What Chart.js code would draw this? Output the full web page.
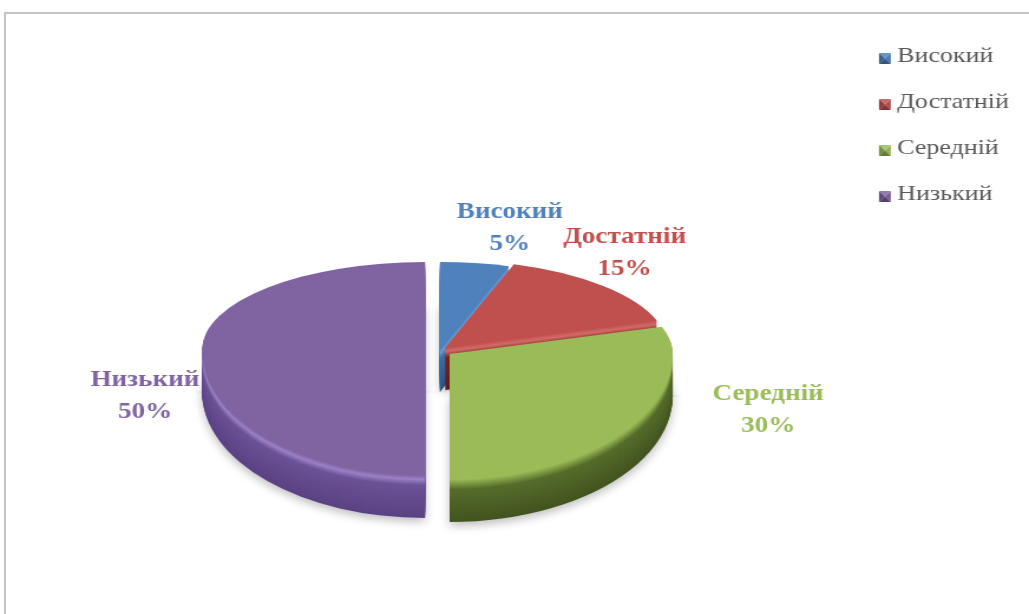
<!DOCTYPE html>
<html>
<head>
<meta charset="utf-8">
<script src="https://cdn.jsdelivr.net/npm/chart.js@4.4.1/dist/chart.umd.min.js"></script>
<style>
  html, body { margin: 0; padding: 0; background: #fff; overflow: hidden; width: 1029px; height: 614px; }
  #frame { position: absolute; left: 4px; top: 12px; width: 1200px; height: 800px;
           border-top: 2px solid #c4c4c4; border-left: 2px solid #c4c4c4; }
  #c { position: absolute; left: 0; top: 0; }
</style>
</head>
<body>
<div id="frame"></div>
<canvas id="c" width="872" height="614" style="width:1029px;height:614px"></canvas>
<script>
// --- data ---
const categories = ['Високий', 'Достатній', 'Середній', 'Низький'];
const shares = [5, 15, 30, 50];

// --- colours ---
const topColors   = ['#4f81bd', '#c0504d', '#9bbb59', '#8064a2'];
const rimColors   = ['#6f9bd3', '#d36b68', '#7f9c45', '#9a82c8'];
const sideUpper   = ['#3d6da6', '#7a2422', '#566c2b', '#6c5296'];
const sideLower   = ['#2c5282', '#5e1b19', '#435420', '#5a4383'];
const labelColors = ['#4f81bd', '#c0504d', '#9bbb59', '#8064a2'];

// the canvas buffer is displayed 1029px wide: horizontal stretch factor
const SX = 1029 / 872;
// projected pie: centre, horizontal radius, far/near vertical radii, wall height
// (x in buffer units; the far half is flatter than the near half for perspective)
const pie = { cx: 440 / SX, cy: 350, rx: 223 / SX, ryBack: 88, ryFront: 126, depth: 42 };
// how far each slice is pulled out along its mid angle (screen px)
const explode = [0, 7, 12, 15];
// label block centre relative to the slice's rim point (screen px)
const labelShift = [[35, -35], [22, -33], [138, -18], [-57, 46]];

function hexToRgb(h) {
  const n = parseInt(h.slice(1), 16);
  return [(n >> 16) & 255, (n >> 8) & 255, n & 255];
}
function mix(a, b, t) {
  const p = hexToRgb(a), q = hexToRgb(b);
  t = Math.max(0, Math.min(1, t));
  const c = p.map((v, k) => Math.round(v + (q[k] - v) * t));
  return 'rgb(' + c.join(',') + ')';
}

function midAngle(arc) { return (arc.startAngle + arc.endAngle) / 2; }
function ryFor(angle) { return Math.sin(angle) < 0 ? pie.ryBack : pie.ryFront; }

function sliceOffset(arc, i) {
  const m = midAngle(arc), e = explode[i];
  return { dx: Math.cos(m) * e / SX, dy: Math.sin(m) * e * (ryFor(m) / (pie.rx * SX)) };
}

// draw one library arc element projected onto the tilted pie:
// far half and near half use their own vertical radius
function paintArc(ctx, arc, dx, dy, fill) {
  const r = arc.outerRadius;
  const splitY = pie.cy + dy;
  const halves = [[pie.ryBack, -10000, splitY + 0.5], [pie.ryFront, splitY - 0.5, 10000]];
  const own = arc.options;
  arc.options = Object.assign({}, own, { backgroundColor: fill, borderWidth: 0, offset: 0, spacing: 0 });
  halves.forEach(([ry, y1, y2]) => {
    ctx.save();
    ctx.beginPath();
    ctx.rect(-10000, y1, 20000, y2 - y1);
    ctx.clip();
    ctx.translate(pie.cx + dx, pie.cy + dy);
    ctx.scale(pie.rx / r, ry / r);
    ctx.translate(-arc.x, -arc.y);
    arc.draw(ctx);
    ctx.restore();
  });
  arc.options = own;
}

function sideColor(i, d) {
  const D = pie.depth, hiEnd = 4, fadeEnd = 10;
  if (d <= hiEnd) return mix(topColors[i], rimColors[i], d / hiEnd);
  if (d <= fadeEnd) return mix(rimColors[i], sideUpper[i], (d - hiEnd) / (fadeEnd - hiEnd));
  return mix(sideUpper[i], sideLower[i], (d - fadeEnd) / (D - fadeEnd));
}

const pie3d = {
  id: 'pie3d',
  beforeDatasetsDraw(chart) {
    const ctx = chart.ctx;
    const arcs = chart.getDatasetMeta(0).data;
    const offs = arcs.map((a, i) => sliceOffset(a, i));
    const back = [], front = [];
    arcs.forEach((a, i) => (Math.sin(midAngle(a)) < -0.2 ? back : front).push(i));
    const D = pie.depth;
    [back, front].forEach(group => {
      for (let d = D; d >= 1; d--) {
        group.forEach(i => {
          ctx.save();
          if (d === D) {
            ctx.shadowColor = 'rgba(0,0,0,0.25)';
            ctx.shadowBlur = 8;
            ctx.shadowOffsetY = 4;
          }
          paintArc(ctx, arcs[i], offs[i].dx, offs[i].dy + d, sideColor(i, d));
          ctx.restore();
        });
      }
    });
    arcs.forEach((a, i) => paintArc(ctx, a, offs[i].dx, offs[i].dy, topColors[i]));
    return false;
  },
  afterDraw(chart) {
    const ctx = chart.ctx;
    const arcs = chart.getDatasetMeta(0).data;
    const values = chart.data.datasets[0].data;
    const total = values.reduce((s, v) => s + v, 0);
    arcs.forEach((a, i) => {
      const m = midAngle(a), o = sliceOffset(a, i);
      const px = pie.cx + o.dx + Math.cos(m) * pie.rx + labelShift[i][0] / SX;
      const py = pie.cy + o.dy + Math.sin(m) * ryFor(m) + labelShift[i][1];
      ctx.save();
      ctx.font = 'bold 23px "Liberation Serif", "Times New Roman", serif';
      ctx.fillStyle = labelColors[i];
      ctx.textAlign = 'center';
      ctx.textBaseline = 'middle';
      ctx.fillText(chart.data.labels[i], px, py - 16);
      ctx.fillText(Math.round(values[i] / total * 100) + '%', px, py + 16);
      ctx.restore();
    });
  }
};

// small bevelled legend markers
function makeMarker(color) {
  const c = document.createElement('canvas');
  c.width = 14; c.height = 16;
  const g = c.getContext('2d');
  const x0 = 3, y0 = 5, w = 10, h = 11, mx = x0 + w / 2, my = y0 + h / 2;
  const tri = (pts, fill) => {
    g.beginPath(); g.moveTo(pts[0], pts[1]);
    for (let k = 2; k < pts.length; k += 2) g.lineTo(pts[k], pts[k + 1]);
    g.closePath(); g.fillStyle = fill; g.fill();
  };
  tri([x0, y0, x0 + w, y0, mx, my], mix(color, '#ffffff', 0.15));
  tri([x0, y0, x0, y0 + h, mx, my], mix(color, '#000000', 0.25));
  tri([x0 + w, y0, x0 + w, y0 + h, mx, my], mix(color, '#000000', 0.05));
  tri([x0, y0 + h, x0 + w, y0 + h, mx, my], mix(color, '#000000', 0.35));
  return c;
}
const markers = topColors.map(makeMarker);

new Chart(document.getElementById('c'), {
  type: 'pie',
  data: {
    labels: categories,
    datasets: [{ data: shares, backgroundColor: topColors, borderWidth: 0, offset: 0 }]
  },
  options: {
    responsive: false,
    animation: false,
    events: [],
    layout: { padding: { top: 21, right: 7, bottom: 10, left: 10 } },
    plugins: {
      tooltip: { enabled: false },
      legend: {
        position: 'right',
        align: 'start',
        labels: {
          usePointStyle: true,
          boxWidth: 1,
          boxHeight: 10,
          padding: 24,
          color: '#595959',
          font: { family: '"Liberation Serif", "Times New Roman", serif', size: 22 },
          generateLabels(chart) {
            return chart.data.labels.map((t, i) => ({
              text: t, fillStyle: topColors[i], strokeStyle: topColors[i], lineWidth: 0,
              pointStyle: markers[i], hidden: false, index: i, fontColor: '#595959'
            }));
          }
        }
      }
    }
  },
  plugins: [pie3d]
});
</script>
</body>
</html>
